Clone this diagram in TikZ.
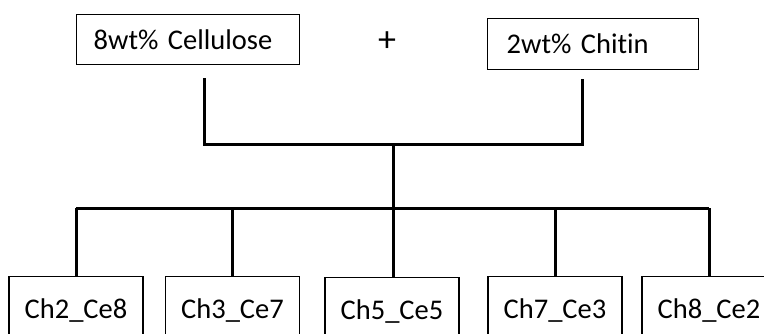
\documentclass[tikz,border=0pt]{standalone}
\usepackage{fontspec}
\setmainfont{Carlito}[Ligatures={NoCommon,NoContextual}]
\usetikzlibrary{positioning}

\tikzset{
  txt/.style={font=\fontsize{28.5}{34}\selectfont},
  mixbox/.style={draw,line width=1.3pt,rectangle,inner xsep=17pt,align=left,
                 minimum height=50pt,anchor=north west,txt},
  samplebox/.style={draw,line width=1.3pt,rectangle,minimum width=134pt,
                    minimum height=68pt,anchor=north,txt},
  link/.style={line width=3pt}
}

\begin{document}
\begin{tikzpicture}[x=1pt,y=-1pt]
\useasboundingbox (0,0) rectangle (764,333);
\clip (0,0) rectangle (764,333);
% starting solutions
\node[mixbox,text width=189pt] (cell) at (76,14) {8wt\% Cellulose};
\node[mixbox,text width=173pt,inner xsep=19pt,minimum height=51pt]
      (chit) at (487,18) {2wt\% Chitin};
\node[font=\fontsize{36}{40}\selectfont] (plus) at (387,42) {+};
% blends
\node[samplebox] (s1) at (76,276) {Ch2\_Ce8};
\node[samplebox] (s2) at (232.5,276) {Ch3\_Ce7};
\node[samplebox] (s3) at (392,277) {Ch5\_Ce5};
\node[samplebox] (s4) at (555,276) {Ch7\_Ce3};
\node[samplebox] (s5) at (709,276) {Ch8\_Ce2};
% junctions
\coordinate (jl) at (204,144);
\coordinate (jr) at (582,144);
\coordinate (jm) at (393,144);
\coordinate (bar) at (393,208);
\draw[link] ([yshift=-13pt]cell.south -| jl) -- (jl) -- (jr)
            -- ([yshift=-9pt]chit.south -| jr);
\draw[link] (jm) -- (jm |- s3.north);
\draw[link] (s1.north |- bar) -- (s5.north |- bar);
\draw[link] (s1.north |- bar) -- (s1.north);
\draw[link] (s2.north |- bar) -- (s2.north);
\draw[link] (s4.north |- bar) -- (s4.north);
\draw[link] (s5.north |- bar) -- (s5.north);
\end{tikzpicture}
\end{document}
